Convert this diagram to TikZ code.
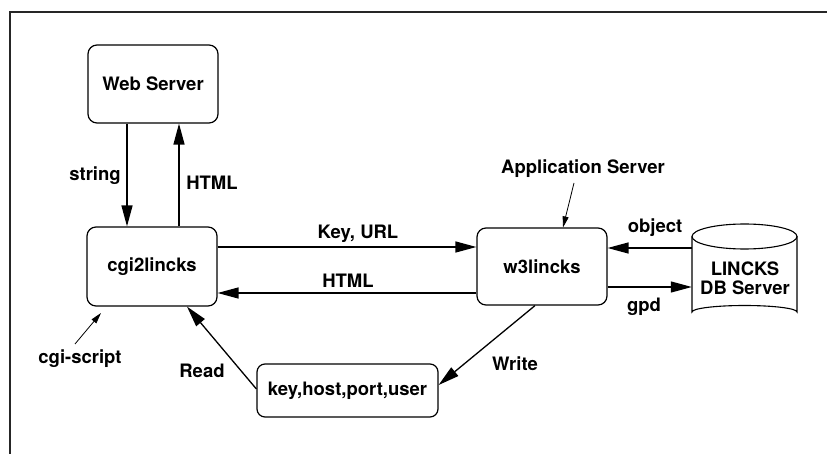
\documentclass[tikz,border=0pt]{standalone}
\usepackage{fontspec}
\setmainfont{TeX Gyre Heros}
\usetikzlibrary{arrows.meta,calc}
\tikzset{
  box/.style={draw, rounded corners=9pt, line width=1.2pt, align=center, inner sep=0pt},
  lbl/.style={inner sep=0pt},
  flow/.style={line width=1.3pt, -{Triangle[length=21pt,width=11pt]}},
  note/.style={line width=0.8pt, -{Triangle[length=11pt,width=6pt]}},
}
\begin{document}
\begin{tikzpicture}[x=1pt,y=-1pt,font=\fontsize{18.5}{22}\selectfont\bfseries]
\useasboundingbox (0,0) rectangle (827,454);
% frame (top and left edges)
\draw[line width=1.3pt, black!85] (827,12) -- (10,12) -- (10,454);

\node[box, minimum width=130pt, minimum height=78pt] (web) at (153,84) {Web Server};
\node[box, minimum width=130pt, minimum height=79pt] (cgi) at (152,266.5) {cgi2lincks};
\node[box, minimum width=130pt, minimum height=77pt] (w3) at (542,266.5) {w3lincks};
\node[box, minimum width=181pt, minimum height=53pt, rounded corners=8pt] (kb) at (347.5,390.5) {key,host,port,user};

% cylinder
\node[minimum width=105pt, minimum height=94pt, inner sep=0pt] (db) at (744.5,271) {};
\draw[line width=1.1pt] (744.5,236.5) ellipse [x radius=52.5, y radius=12.5];
\draw[line width=1.1pt] (692,236.5) -- (692,312) arc[start angle=180, end angle=360, x radius=52.5, y radius=6.5] -- (797,236.5);
\node[lbl, align=center] (dbtxt) at (745,278.5) {LINCKS\\[-3pt]DB Server};

% web <-> cgi
\draw[flow] (web.south -| 127,0) -- (cgi.north -| 127,0);
\draw[flow] (cgi.north -| 179,0) -- (web.south -| 179,0);
\node[lbl] (lstring) at (95,176) {string};
\node[lbl] (lhtml1) at (212,183) {HTML};

% cgi <-> w3
\draw[flow] (cgi.east |- 0,247) -- (w3.west |- 0,247);
\draw[flow] (w3.west |- 0,293) -- (cgi.east |- 0,293);
\node[lbl] (lkey) at (358,234) {Key, URL};
\node[lbl] (lhtml2) at (348,281) {HTML};

% w3 <-> db
\draw[flow] (db.west |- 0,248) -- (w3.east |- 0,248);
\draw[flow] (w3.east |- 0,287) -- (db.west |- 0,287);
\node[lbl] (lobj) at (655,228) {object};
\node[lbl] (lgpd) at (644,307) {gpd};

% read / write
\draw[flow] (kb.west |- 0,389) -- ($(cgi.south)+(35,0)$);
\draw[flow] ($(w3.south)+(-7,0)$) -- (kb.east |- 0,385);
\node[lbl] (lread) at (202,371) {Read};
\node[lbl] (lwrite) at (515,364) {Write};

% annotations
\node[lbl] (lcgi) at (80,359) {cgi-script};
\coordinate (cgit) at (75,344);
\draw[note] (cgit) -- (101,313);
\node[lbl] (lapp) at (583,169) {Application Server};
\coordinate (appt) at (574,183);
\draw[note] (appt) -- ($(w3.north)+(21,0)$);
\end{tikzpicture}
\end{document}
